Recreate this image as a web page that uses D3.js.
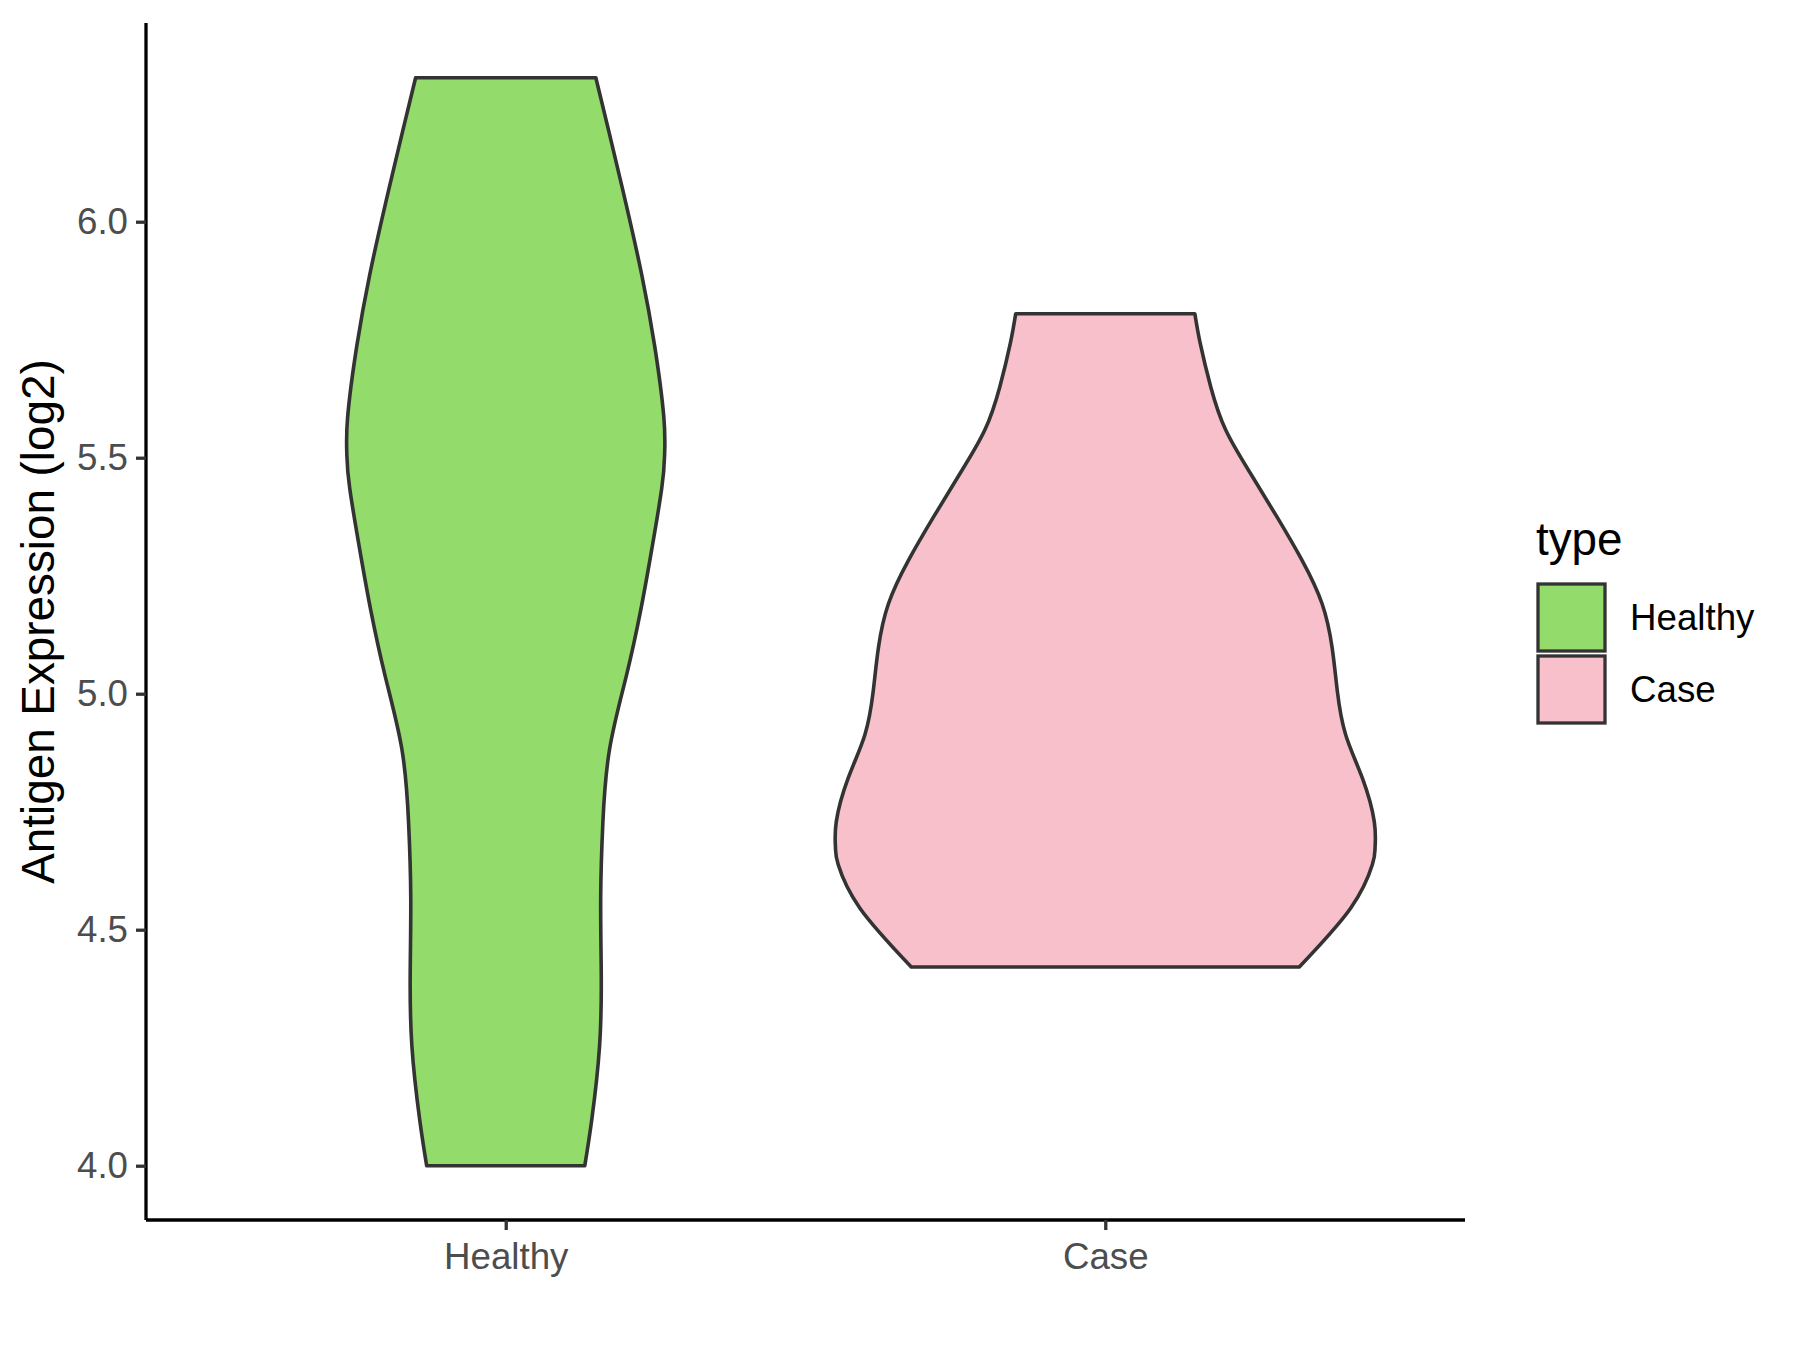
<!DOCTYPE html>
<html>
<head>
<meta charset="utf-8">
<script src="https://cdn.jsdelivr.net/npm/d3@7"></script>
<style>
  body { margin: 0; background: #fff; }
  text { font-family: "Liberation Sans", Arial, sans-serif; }
</style>
</head>
<body>
<div id="chart"></div>
<script>
// groups and colours
var groups = ["Healthy", "Case"];
var fills = ["#93DB6A", "#F8C0CB"];

// violin outlines: value and relative density (1 = widest)
var healthyValues = [6.305, 6.192, 6.04, 5.888, 5.737, 5.586, 5.509, 5.434, 5.282, 5.176, 5.04, 4.883, 4.726, 4.569, 4.412, 4.255, 4.098, 4.0];
var healthyDensity = [0.334, 0.382, 0.445, 0.504, 0.552, 0.586, 0.589, 0.578, 0.534, 0.500, 0.448, 0.385, 0.360, 0.352, 0.354, 0.348, 0.319, 0.293];
var caseValues = [5.805, 5.742, 5.65, 5.558, 5.466, 5.374, 5.282, 5.19, 5.097, 5.006, 4.913, 4.821, 4.729, 4.674, 4.638, 4.546, 4.421];
var caseDensity = [0.332, 0.352, 0.391, 0.447, 0.539, 0.637, 0.730, 0.804, 0.841, 0.860, 0.891, 0.953, 0.997, 1.0, 0.990, 0.910, 0.719];

var yTicks = [4.0, 4.5, 5.0, 5.5, 6.0];

var W = 1800, H = 1350;
var margin = {top: 23, right: 335, bottom: 130, left: 146};
var width = W - margin.left - margin.right;
var height = H - margin.top - margin.bottom;

var svg = d3.select("#chart")
    .append("svg")
    .attr("width", W)
    .attr("height", H)
    .style("display", "block");

var g = svg.append("g")
    .attr("transform", "translate(" + margin.left + "," + margin.top + ")");

var x = d3.scalePoint()
    .domain(groups)
    .range([0, width])
    .padding(0.6);

var y = d3.scaleLinear()
    .domain([3.885, 6.421])
    .range([height, 0]);

// widest violin takes 0.9 of one category step
var halfMax = 0.45 * x.step();

var violins = [
    {group: "Healthy", fill: fills[0], pts: healthyValues.map(function (v, i) { return {v: v, d: healthyDensity[i]}; })},
    {group: "Case", fill: fills[1], pts: caseValues.map(function (v, i) { return {v: v, d: caseDensity[i]}; })}
];

violins.forEach(function (vi) {
    var cx = x(vi.group);
    var area = d3.area()
        .curve(d3.curveNatural)
        .y(function (d) { return y(d.v); })
        .x0(function (d) { return cx - d.d * halfMax; })
        .x1(function (d) { return cx + d.d * halfMax; });
    g.append("path")
        .datum(vi.pts)
        .attr("d", area)
        .attr("fill", vi.fill)
        .attr("stroke", "#333333")
        .attr("stroke-width", 3.6)
        .attr("stroke-linejoin", "round");
});

// y axis
var yAxis = g.append("g")
    .call(d3.axisLeft(y).tickValues(yTicks).tickFormat(d3.format(".1f")).tickSize(10).tickPadding(8));
yAxis.select(".domain").attr("stroke", "#000").attr("stroke-width", 3.3).attr("d", "M0," + height + "V0");
yAxis.selectAll(".tick line").attr("stroke", "#333333").attr("stroke-width", 3.3);
yAxis.selectAll(".tick text")
    .attr("fill", "#4D4D4D")
    .style("font-size", "36.7px")
    .style("font-family", "'Liberation Sans', Arial, sans-serif");

// x axis
var xAxis = g.append("g")
    .attr("transform", "translate(0," + height + ")")
    .call(d3.axisBottom(x).tickSize(10).tickPadding(13));
xAxis.select(".domain").attr("stroke", "#000").attr("stroke-width", 3.3).attr("d", "M0,0H" + width);
xAxis.selectAll(".tick line").attr("stroke", "#333333").attr("stroke-width", 3.3);
xAxis.selectAll(".tick text")
    .attr("fill", "#4D4D4D")
    .style("font-size", "36.7px")
    .style("font-family", "'Liberation Sans', Arial, sans-serif");

// y axis title
svg.append("text")
    .attr("transform", "translate(54," + (margin.top + height / 2) + ") rotate(-90)")
    .attr("text-anchor", "middle")
    .style("font-size", "45.8px")
    .attr("fill", "#000")
    .text("Antigen Expression (log2)");

// legend
var legend = svg.append("g").attr("transform", "translate(1536,0)");
legend.append("text")
    .attr("x", 0)
    .attr("y", 555)
    .style("font-size", "45.8px")
    .attr("fill", "#000")
    .text("type");

groups.forEach(function (grp, i) {
    var top = 584 + i * 72;
    legend.append("rect")
        .attr("x", 2)
        .attr("y", top)
        .attr("width", 67)
        .attr("height", 67)
        .attr("fill", fills[i])
        .attr("stroke", "#333333")
        .attr("stroke-width", 3.3);
    legend.append("text")
        .attr("x", 94)
        .attr("y", top + 33.5)
        .attr("dy", "0.35em")
        .style("font-size", "36.7px")
        .attr("fill", "#000")
        .text(grp);
});
</script>
</body>
</html>
